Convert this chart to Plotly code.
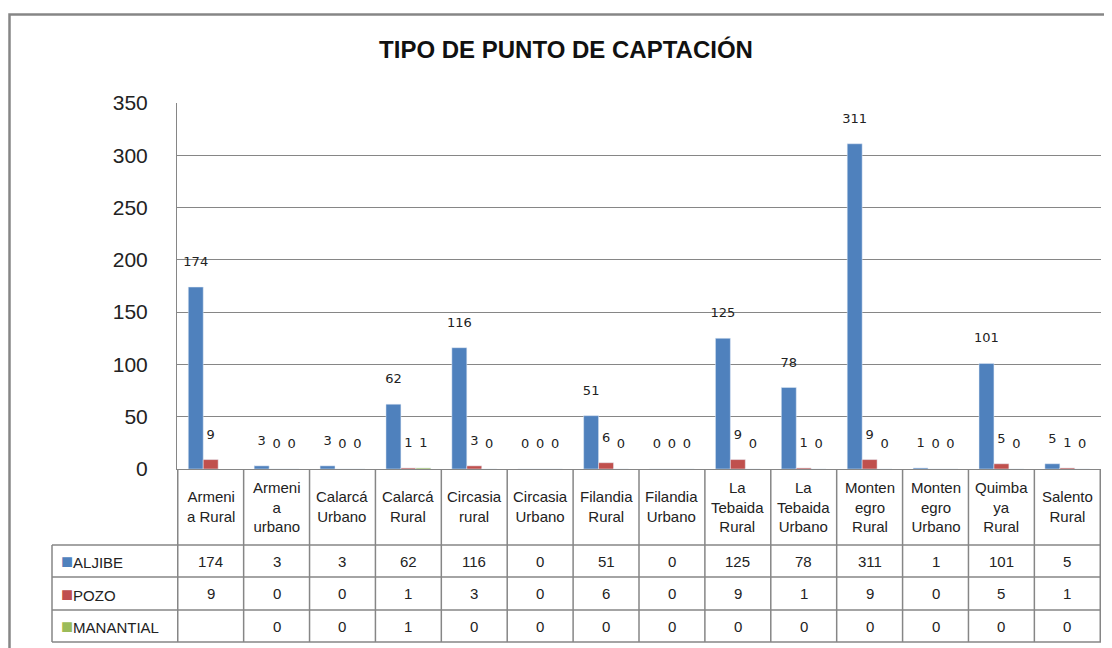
import plotly.graph_objects as go

categories = ['Armenia Rural', 'Armenia urbano', 'Calarcá Urbano', 'Calarcá Rural',
              'Circasia rural', 'Circasia Urbano', 'Filandia Rural', 'Filandia Urbano',
              'La Tebaida Rural', 'La Tebaida Urbano', 'Montenegro Rural',
              'Montenegro Urbano', 'Quimbaya Rural', 'Salento Rural']
header_labels = ['Armeni<br>a Rural', 'Armeni<br>a<br>urbano', 'Calarcá<br>Urbano',
                 'Calarcá<br>Rural', 'Circasia<br>rural', 'Circasia<br>Urbano',
                 'Filandia<br>Rural', 'Filandia<br>Urbano', 'La<br>Tebaida<br>Rural',
                 'La<br>Tebaida<br>Urbano', 'Monten<br>egro<br>Rural',
                 'Monten<br>egro<br>Urbano', 'Quimba<br>ya<br>Rural', 'Salento<br>Rural']

aljibe = [174, 3, 3, 62, 116, 0, 51, 0, 125, 78, 311, 1, 101, 5]
pozo = [9, 0, 0, 1, 3, 0, 6, 0, 9, 1, 9, 0, 5, 1]
manantial = [None, 0, 0, 1, 0, 0, 0, 0, 0, 0, 0, 0, 0, 0]

series = [('ALJIBE', aljibe, '#4F81BD'),
          ('POZO', pozo, '#C0504D'),
          ('MANANTIAL', manantial, '#9BBB59')]

# the page body has an 8px margin, so screen positions are shifted by OFF
OFF = 8
W, H = 1112, 648
L, R, T, B = 177 - OFF, 1101 - OFF, 103 - OFF, 469 - OFF
GRAY = '#868686'


def py(y):
    # screen pixel row -> paper y
    return (B - (y - OFF)) / (B - T)


def pxx(x):
    # screen pixel column -> paper x
    return ((x - OFF) - L) / (R - L)


fig = go.Figure()
for name, vals, color in series:
    fig.add_trace(go.Bar(
        x=categories, y=vals, name=name, marker_color=color,
        text=['' if v is None else f"{v}<br><span style='font-size:5px'> </span>"
              for v in vals],
        textposition='outside', textangle=0, constraintext='none',
        textfont=dict(family='DejaVu Sans', size=13, color='#222'),
        cliponaxis=False,
    ))

fig.update_layout(
    width=W, height=H,
    margin=dict(l=L, r=W - R, t=T, b=H - B),
    paper_bgcolor='white', plot_bgcolor='white',
    barmode='group', bargap=0.32, bargroupgap=0,
    showlegend=False,
    font=dict(family='Liberation Sans', color='#222'),
    title=dict(text='<b>TIPO DE PUNTO DE CAPTACIÓN</b>', xref='container',
               x=(566 - OFF) / W, xanchor='center', y=1 - (50 - OFF) / H,
               yanchor='middle', font=dict(size=24, color='#111')),
    xaxis=dict(showticklabels=False, showgrid=False, showline=True,
               linecolor=GRAY, linewidth=1, ticks=''),
    yaxis=dict(range=[0, 350], dtick=50, showgrid=True, gridcolor=GRAY,
               gridwidth=1, showline=True, linecolor=GRAY, linewidth=1,
               zeroline=False, ticks='', ticklabelstandoff=24,
               tickfont=dict(size=21, color='#222')),
)

shapes = []
# outer chart border
shapes.append(dict(type='rect', xref='paper', yref='paper',
                   x0=pxx(9.5), x1=pxx(W + 40), y0=py(14.5), y1=py(H + 40),
                   line=dict(color=GRAY, width=2.5)))
# data table rows
rows_px = [545, 577, 610, 642]
for yy in rows_px:
    shapes.append(dict(type='line', xref='paper', yref='paper',
                       x0=pxx(52), x1=1, y0=py(yy), y1=py(yy),
                       line=dict(color=GRAY, width=1.5)))
shapes.append(dict(type='line', xref='paper', yref='paper',
                   x0=pxx(52), x1=pxx(52), y0=py(545), y1=py(642),
                   line=dict(color=GRAY, width=1.5)))
for i in range(len(categories) + 1):
    shapes.append(dict(type='line', xref='x', yref='paper',
                       x0=i - 0.5, x1=i - 0.5, y0=0, y1=py(642),
                       line=dict(color=GRAY, width=1.5)))
fig.update_layout(shapes=shapes)

ann = []
for i, lab in enumerate(header_labels):
    ann.append(dict(x=categories[i], y=py(507), xref='x', yref='paper',
                    text=lab, showarrow=False, xanchor='center', yanchor='middle',
                    font=dict(size=15, color='#222')))
row_centers = [561, 593.5, 626]
for (name, vals, color), yc in zip(series, row_centers):
    ann.append(dict(x=pxx(59), y=py(yc), xref='paper', yref='paper',
                    text=f"<span style='color:{color};font-size:20px'>■</span>{name}",
                    showarrow=False, xanchor='left', yanchor='middle',
                    font=dict(size=15, color='#222')))
    for i, v in enumerate(vals):
        if v is None:
            continue
        ann.append(dict(x=categories[i], y=py(yc), xref='x', yref='paper',
                        text=str(v), showarrow=False, xanchor='center',
                        yanchor='middle', font=dict(size=15, color='#222')))
fig.update_layout(annotations=ann)

fig.write_html('out.html')
